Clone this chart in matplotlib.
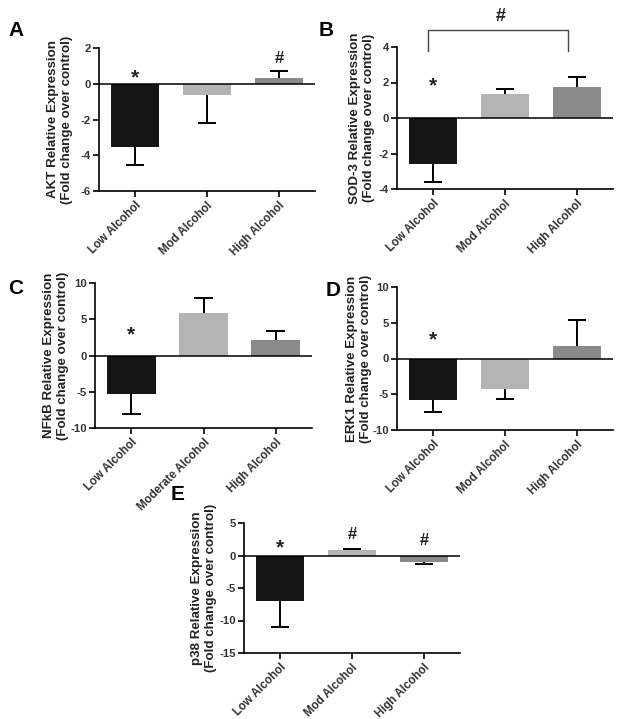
import matplotlib
matplotlib.use("Agg")
import matplotlib.pyplot as plt
import numpy as np

plt.rcParams['font.family'] = ['Liberation Sans', 'DejaVu Sans']
plt.rcParams['axes.unicode_minus'] = False

cats_short = ["Low Alcohol", "Mod Alcohol", "High Alcohol"]
cats_c = ["Low Alcohol", "Moderate Alcohol", "High Alcohol"]

akt_mean = [-3.55, -0.65, 0.3]
akt_err = [1.0, 1.55, 0.4]
sod_mean = [-2.6, 1.33, 1.72]
sod_err = [1.0, 0.28, 0.58]
nfkb_mean = [-5.3, 5.9, 2.15]
nfkb_err = [2.7, 2.1, 1.25]
erk_mean = [-5.85, -4.3, 1.8]
erk_err = [1.6, 1.3, 3.6]
p38_mean = [-6.95, 0.85, -1.0]
p38_err = [4.05, 0.15, 0.35]

colors = ["#151515", "#b4b4b4", "#8a8a8a"]

fig = plt.figure(figsize=(6.24, 7.19), dpi=100)


def panel(rect, label_off, cats, mean, err, ylim, yticks, gene, letter, letter_pos, marks):
    ax = fig.add_axes(rect)
    x = np.arange(len(cats))
    ax.bar(x, mean, width=0.68, color=colors, linewidth=0, zorder=2)
    mean = np.array(mean)
    err = np.array(err)
    ends = np.where(mean < 0, mean - err, mean + err)
    ax.vlines(x, mean, ends, color='black', lw=1.4, zorder=3)
    ax.hlines(ends, x - 0.13, x + 0.13, color='black', lw=1.4, zorder=3)
    ax.axhline(0, color='black', lw=1.1, zorder=4)
    ax.set_xlim(-0.5, 2.5)
    ax.set_ylim(*ylim)
    ax.set_yticks(yticks)
    ax.set_xticks(x)
    ax.set_xticklabels(cats, rotation=45, ha='right', rotation_mode='anchor',
                       fontsize=8.3, fontweight='bold', color='#333333')
    for lab in ax.get_yticklabels():
        lab.set_fontsize(8.1)
        lab.set_fontweight('bold')
        lab.set_color('#333333')
    ax.spines['top'].set_visible(False)
    ax.spines['right'].set_visible(False)
    ax.spines['left'].set_linewidth(1.2)
    ax.spines['bottom'].set_linewidth(1.2)
    ax.tick_params(axis='both', direction='out', length=4, width=1.2, pad=2)
    ax.set_ylabel(gene + " Relative Expression\n(Fold change over control)",
                  fontsize=9.6, fontweight='bold', color='#222222',
                  linespacing=1.25)
    ax.yaxis.set_label_coords(-label_off / (rect[2] * 624), 0.5)
    fig.text(letter_pos[0] / 624, 1 - letter_pos[1] / 719, letter, fontsize=15,
             fontweight='bold', ha='center', va='center')
    for (xi, yi, s) in marks:
        ax.text(xi, yi, s, ha='center', va='center', fontsize=15 if s == '*' else 12,
                fontweight='bold', color='#222222')
    return ax


def rect(l, r, b, t):
    return [l / 624, 1 - b / 719, (r - l) / 624, (b - t) / 719]


panel(rect(99, 315, 191, 48), 26, cats_short, akt_mean, akt_err, (-6, 2), [-6, -4, -2, 0, 2],
      "AKT", "A", (16, 31), [(0, 0.3, '*'), (2, 1.4, '#')])

axb = panel(rect(397, 613, 189, 47), 22, cats_short, sod_mean, sod_err, (-4, 4), [-4, -2, 0, 2, 4],
            "SOD-3", "B", (326, 30), [(0, 1.8, '*')])
axb.plot([-0.07, -0.07, 1.87, 1.87], [3.77, 4.96, 4.96, 3.77], color='#444444', lw=1.0,
         clip_on=False)
axb.text(0.94, 5.7, '#', ha='center', va='center', fontsize=13, fontweight='bold',
         color='#222222', clip_on=False)

panel(rect(95, 312, 428, 283), 26, cats_c, nfkb_mean, nfkb_err, (-10, 10), [-10, -5, 0, 5, 10],
      "NFkB", "C", (16, 288), [(0, 2.8, '*')])

panel(rect(397, 613, 430, 287), 25, cats_short, erk_mean, erk_err, (-10, 10), [-10, -5, 0, 5, 10],
      "ERK1", "D", (333, 290), [(0, 2.6, '*')])

panel(rect(244, 460, 653, 523), 27, cats_short, p38_mean, p38_err, (-15, 5), [-15, -10, -5, 0, 5],
      "p38", "E", (178, 494), [(0, 1.2, '*'), (1, 3.3, '#'), (2, 2.3, '#')])

fig.savefig("out.png", dpi=100)
